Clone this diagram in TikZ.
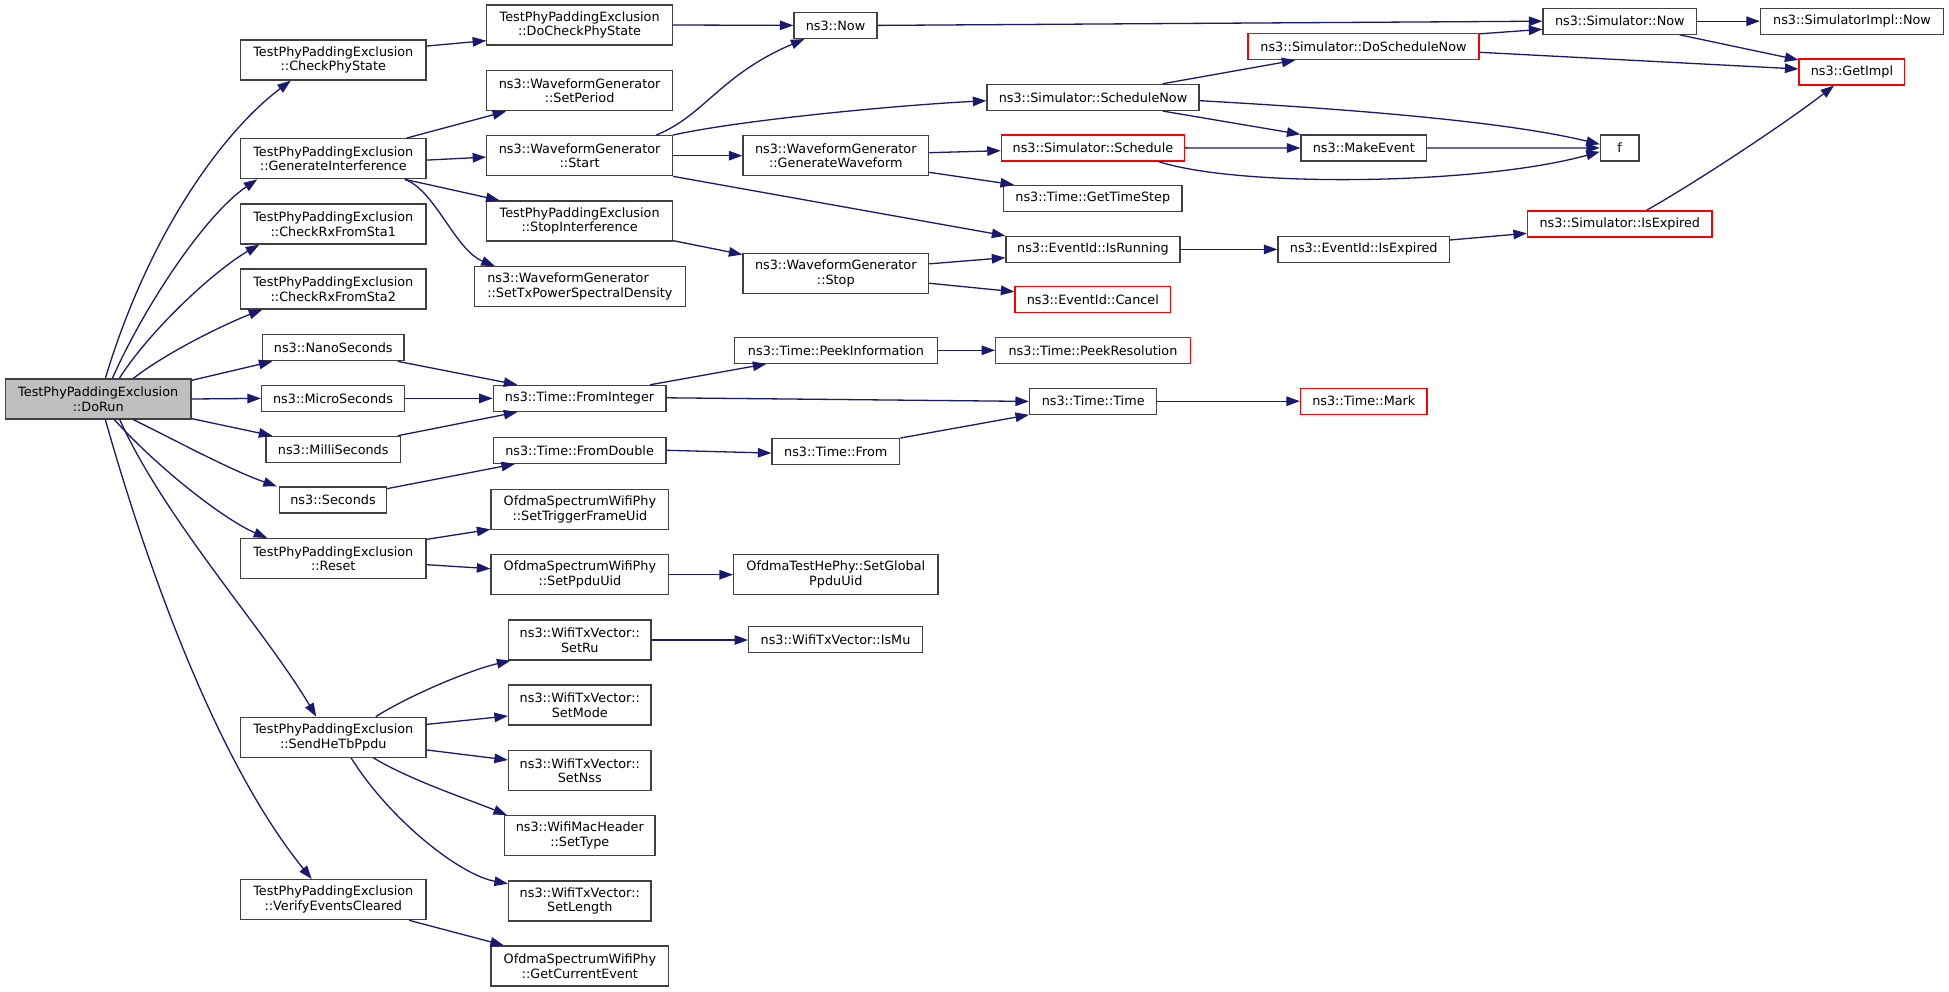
\documentclass[tikz,border=0pt]{standalone}
\usepackage{fontspec}
\setmainfont{DejaVu Sans}
\usetikzlibrary{arrows.meta,calc}
\definecolor{boxgray}{HTML}{404040}
\definecolor{navy}{HTML}{191970}
\definecolor{rootfill}{HTML}{BFBFBF}
\definecolor{redline}{HTML}{FF0000}
\tikzset{
  box/.style={draw=boxgray, line width=1.3pt, fill=white, inner sep=0pt, align=center,
    font=\fontsize{12.8}{14.7}\selectfont, text=black},
  redbox/.style={box, draw=redline},
  b2/.style={minimum width=185.6pt, minimum height=40pt},
  edge/.style={draw=navy, line width=1.3pt, -{Triangle[length=13.5pt,width=9.5pt]}}
}
\begin{document}
\begin{tikzpicture}[x=1pt,y=-1pt]
\fill[white] (0,0) rectangle (1949,992);
\useasboundingbox (0,0) rectangle (1949,992);

% column 0
\node[box, b2, fill=rootfill] (doRun) at (98.2,399) {TestPhyPaddingExclusion\\::DoRun};
% column 1
\node[box, b2] (checkPhy) at (333.3,60) {TestPhyPaddingExclusion\\::CheckPhyState};
\node[box, b2] (genInt) at (333.3,158.7) {TestPhyPaddingExclusion\\::GenerateInterference};
\node[box, b2] (rx1) at (333.3,224) {TestPhyPaddingExclusion\\::CheckRxFromSta1};
\node[box, b2] (rx2) at (333.3,289) {TestPhyPaddingExclusion\\::CheckRxFromSta2};
\node[box, minimum width=141.5pt, minimum height=26pt] (nano) at (333.3,347.7) {ns3::NanoSeconds};
\node[box, minimum width=143pt, minimum height=26pt] (micro) at (333,398.4) {ns3::MicroSeconds};
\node[box, minimum width=134.4pt, minimum height=26pt] (milli) at (333.2,449.4) {ns3::MilliSeconds};
\node[box, minimum width=107pt, minimum height=26pt] (secs) at (333,500) {ns3::Seconds};
\node[box, b2] (reset) at (333.3,558.7) {TestPhyPaddingExclusion\\::Reset};
\node[box, b2] (send) at (333.3,737.3) {TestPhyPaddingExclusion\\::SendHeTbPpdu};
\node[box, b2] (verify) at (333.3,899.7) {TestPhyPaddingExclusion\\::VerifyEventsCleared};
% column 2
\node[box, b2] (doCheck) at (579.6,25) {TestPhyPaddingExclusion\\::DoCheckPhyState};
\node[box, b2] (setPeriod) at (579.6,90.7) {ns3::WaveformGenerator\\::SetPeriod};
\node[box, b2] (start) at (579.6,155.7) {ns3::WaveformGenerator\\::Start};
\node[box, b2] (stopInt) at (579.6,221) {TestPhyPaddingExclusion\\::StopInterference};
\node[box, minimum width=210.8pt, minimum height=40pt, align=left] (setTx) at (579.9,286.7) {ns3::WaveformGenerator\\::SetTxPowerSpectralDensity};
\node[box, minimum width=172.7pt, minimum height=26pt] (fromInt) at (579.6,398.4) {ns3::Time::FromInteger};
\node[box, minimum width=172.7pt, minimum height=26pt] (fromDbl) at (579.6,450.3) {ns3::Time::FromDouble};
\node[box, minimum width=177.8pt, minimum height=40pt] (setTrig) at (579.9,509.3) {OfdmaSpectrumWifiPhy\\::SetTriggerFrameUid};
\node[box, minimum width=177.8pt, minimum height=40pt] (setPpdu) at (579.9,574.7) {OfdmaSpectrumWifiPhy\\::SetPpduUid};
\node[box, minimum width=142.5pt, minimum height=40pt] (setRu) at (579.8,640) {ns3::WifiTxVector::\\SetRu};
\node[box, minimum width=142.5pt, minimum height=40pt] (setMode) at (579.8,705) {ns3::WifiTxVector::\\SetMode};
\node[box, minimum width=142.5pt, minimum height=40pt] (setNss) at (579.8,770.7) {ns3::WifiTxVector::\\SetNss};
\node[box, minimum width=150.5pt, minimum height=40pt] (setType) at (579.8,835.7) {ns3::WifiMacHeader\\::SetType};
\node[box, minimum width=142.5pt, minimum height=40pt] (setLen) at (579.8,901) {ns3::WifiTxVector::\\SetLength};
\node[box, minimum width=177.8pt, minimum height=40pt] (getCur) at (579.9,966) {OfdmaSpectrumWifiPhy\\::GetCurrentEvent};
% column 3
\node[box, minimum width=83pt, minimum height=26pt] (now) at (835.5,25.4) {ns3::Now};
\node[box, b2] (genWave) at (835.8,155.7) {ns3::WaveformGenerator\\::GenerateWaveform};
\node[box, b2] (stop) at (835.8,273.2) {ns3::WaveformGenerator\\::Stop};
\node[box, minimum width=203pt, minimum height=26pt] (peekInfo) at (836,350.3) {ns3::Time::PeekInformation};
\node[box, minimum width=127.6pt, minimum height=26pt] (from) at (835.8,451.7) {ns3::Time::From};
\node[box, minimum width=204.4pt, minimum height=40pt] (setGlobal) at (835.8,574.7) {OfdmaTestHePhy::SetGlobal\\PpduUid};
\node[box, minimum width=173.7pt, minimum height=26pt] (isMu) at (835.5,639.7) {ns3::WifiTxVector::IsMu};
% column 4
\node[box, minimum width=212pt, minimum height=26pt] (schedNow) at (1093,97.4) {ns3::Simulator::ScheduleNow};
\node[redbox, minimum width=183pt, minimum height=26pt] (sched) at (1092.9,147.9) {ns3::Simulator::Schedule};
\node[box, minimum width=178.4pt, minimum height=26pt] (timeStep) at (1092.8,198.4) {ns3::Time::GetTimeStep};
\node[box, minimum width=174pt, minimum height=26pt] (isRun) at (1093,249.4) {ns3::EventId::IsRunning};
\node[redbox, minimum width=155.6pt, minimum height=26pt] (cancel) at (1092.8,299.7) {ns3::EventId::Cancel};
\node[redbox, minimum width=194.7pt, minimum height=26pt] (peekRes) at (1093,350.3) {ns3::Time::PeekResolution};
\node[box, minimum width=127.2pt, minimum height=26pt] (time) at (1093.2,401.2) {ns3::Time::Time};
% column 5
\node[redbox, minimum width=231pt, minimum height=26pt] (doSchedNow) at (1363.5,46.5) {ns3::Simulator::DoScheduleNow};
\node[box, minimum width=125.5pt, minimum height=26pt] (makeEv) at (1363.8,148) {ns3::MakeEvent};
\node[box, minimum width=171.4pt, minimum height=26pt] (evExp) at (1363.7,249.4) {ns3::EventId::IsExpired};
\node[redbox, minimum width=126.5pt, minimum height=26pt] (mark) at (1363.8,401.2) {ns3::Time::Mark};
% column 6
\node[box, minimum width=153.6pt, minimum height=26pt] (simNow) at (1619.8,21.2) {ns3::Simulator::Now};
\node[box, minimum width=38.6pt, minimum height=26pt] (f) at (1619.7,147.9) {f};
\node[redbox, minimum width=184.5pt, minimum height=26pt] (simExp) at (1619.8,223.9) {ns3::Simulator::IsExpired};
% column 7
\node[box, minimum width=183pt, minimum height=26pt] (implNow) at (1852,21.2) {ns3::SimulatorImpl::Now};
\node[redbox, minimum width=105.7pt, minimum height=26pt] (getImpl) at (1851.9,71.9) {ns3::GetImpl};

% edges from DoRun
\draw[edge] ([xshift=100.6pt]doRun.north west) .. controls (150,230) and (225,130) .. ([xshift=51pt]checkPhy.south west);
\draw[edge] ([xshift=107.6pt]doRun.north west) .. controls (145,305) and (205,215) .. ([xshift=17.4pt]genInt.south west);
\draw[edge] ([xshift=114.6pt]doRun.north west) .. controls (150,330) and (215,270) .. ([xshift=19.4pt]rx1.south west);
\draw[edge] ([xshift=128.6pt]doRun.north west) .. controls (170,350) and (230,322) .. ([xshift=22.4pt]rx2.south west);
\draw[edge] ([yshift=-2pt]doRun.north east) -- ([xshift=10.5pt]nano.south west);
\draw[edge] (doRun.east) -- (micro.west);
\draw[edge] ([yshift=1pt]doRun.south east) -- ([xshift=7pt]milli.north west);
\draw[edge] ([xshift=128.6pt]doRun.south west) .. controls (175,440) and (230,470) .. ([xshift=-2pt]secs.north west);
\draw[edge] ([xshift=109.6pt]doRun.south west) .. controls (160,470) and (225,520) .. ([xshift=27.4pt]reset.north west);
\draw[edge] ([xshift=115pt]doRun.south west) .. controls (165,520) and (265,630) .. ([xshift=76.4pt]send.north west);
\draw[edge] ([xshift=100.6pt]doRun.south west) .. controls (145,560) and (215,760) .. ([xshift=71.9pt]verify.north west);

% column 1 out
\draw[edge] ([yshift=-6.7pt]checkPhy.north east) -- ([yshift=5pt]doCheck.south west);
\draw[edge] (doCheck.east) -- (now.west);
\draw[edge] ([xshift=-20pt]genInt.north east) -- ([xshift=20pt]setPeriod.south west);
\draw[edge] ([yshift=-1.4pt]genInt.east) -- ([yshift=-1.4pt]start.west);
\draw[edge] ([xshift=-22pt]genInt.south east) -- ([xshift=13.4pt]stopInt.north west);
\draw[edge] ([xshift=-22pt]genInt.south east) .. controls (435,190) and (455,250) .. ([xshift=21pt]setTx.north west);
\draw[edge] ([yshift=-1.3pt]reset.north east) -- ([yshift=0.6pt]setTrig.south west);
\draw[edge] ([yshift=-6pt]reset.east) -- ([yshift=6pt]setPpdu.west);
\draw[edge] ([xshift=-51pt]send.north east) .. controls (410,695) and (470,670) .. ([xshift=2.5pt]setRu.south west);
\draw[edge] ([yshift=-7.7pt]send.north east) -- ([yshift=-11pt]setMode.west);
\draw[edge] ([yshift=8pt]send.south east) -- ([yshift=10.7pt]setNss.west);
\draw[edge] ([xshift=-53.2pt]send.south east) .. controls (410,780) and (470,800) .. ([xshift=3pt]setType.north west);
\draw[edge] ([xshift=-75.6pt]send.south east) .. controls (390,820) and (460,875) .. ([yshift=-3.3pt]setLen.north west);
\draw[edge] ([xshift=-17.5pt]verify.south east) -- ([xshift=13.5pt]getCur.north west);
\draw[edge] ([xshift=-7pt]nano.south east) -- ([xshift=24.7pt]fromInt.north west);
\draw[edge] (micro.east) -- (fromInt.west);
\draw[edge] ([xshift=-3.4pt]milli.north east) -- ([xshift=24.7pt]fromInt.south west);
\draw[edge] ([yshift=-2.3pt]secs.north east) -- ([xshift=22.3pt]fromDbl.south west);

% column 2 out
\draw[edge] ([xshift=-16.7pt]start.north east) .. controls (705,115) and (720,75) .. ([xshift=11pt]now.south west);
\draw[edge] (start.north east) .. controls (740,120) and (900,105) .. ([yshift=-17pt]schedNow.north west);
\draw[edge] (start.east) -- (genWave.west);
\draw[edge] (start.south east) -- (isRun.north west);
\draw[edge] ([yshift=1pt]stopInt.south east) -- ([yshift=-2pt]stop.north west);
\draw[edge] ([xshift=-16.4pt]fromInt.north east) -- ([xshift=32.5pt]peekInfo.south west);
\draw[edge] ([yshift=0.6pt]fromInt.east) -- ([yshift=-0.2pt]time.west);
\draw[edge] (fromDbl.east) -- ([yshift=-1.4pt]from.west);
\draw[edge] (setPpdu.east) -- (setGlobal.west);
\draw[edge] (setRu.east) -- ([yshift=-0.3pt]isMu.west);

% column 3 out
\draw[edge] (now.east) -- (simNow.west);
\draw[edge] ([yshift=3pt]genWave.east) -- ([yshift=-2.8pt]sched.west);
\draw[edge] ([yshift=4pt]genWave.south east) -- ([xshift=11pt]timeStep.north west);
\draw[edge] ([yshift=-11.3pt]stop.north east) -- ([yshift=-8.3pt]isRun.west);
\draw[edge] ([yshift=10.6pt]stop.south east) -- ([yshift=8pt]cancel.west);
\draw[edge] (peekInfo.east) -- (peekRes.west);
\draw[edge] (from.north east) -- (time.south west);

% column 4 out
\draw[edge] ([xshift=-37pt]schedNow.north east) -- ([xshift=48pt]doSchedNow.south west);
\draw[edge] ([yshift=-3.3pt]schedNow.east) .. controls (1330,108) and (1500,120) .. ([yshift=3.6pt]f.west);
\draw[edge] ([xshift=-37pt]schedNow.south east) -- (makeEv.north west);
\draw[edge] (sched.east) -- (makeEv.west);
\draw[edge] ([xshift=-26.7pt]sched.south east) .. controls (1240,188) and (1480,185) .. ([yshift=-3.8pt]f.west);
\draw[edge] (isRun.east) -- (evExp.west);
\draw[edge] (time.east) -- (mark.west);

% column 5 out
\draw[edge] ([yshift=-1pt]doSchedNow.north east) -- ([yshift=-8.1pt]simNow.west);
\draw[edge] ([yshift=-5.8pt]doSchedNow.east) -- ([yshift=2.9pt]getImpl.west);
\draw[edge] (makeEv.east) -- (f.west);
\draw[edge] ([yshift=9.4pt]evExp.east) -- ([yshift=-9.4pt]simExp.west);

% column 6 out
\draw[edge] (simNow.east) -- (implNow.west);
\draw[edge] ([xshift=-17.6pt]simNow.south east) -- ([yshift=-1.7pt]getImpl.north west);
\draw[edge] ([xshift=26.8pt]simExp.north) .. controls (1700,180) and (1790,120) .. ([xshift=-17.9pt]getImpl.south);
\end{tikzpicture}
\end{document}
